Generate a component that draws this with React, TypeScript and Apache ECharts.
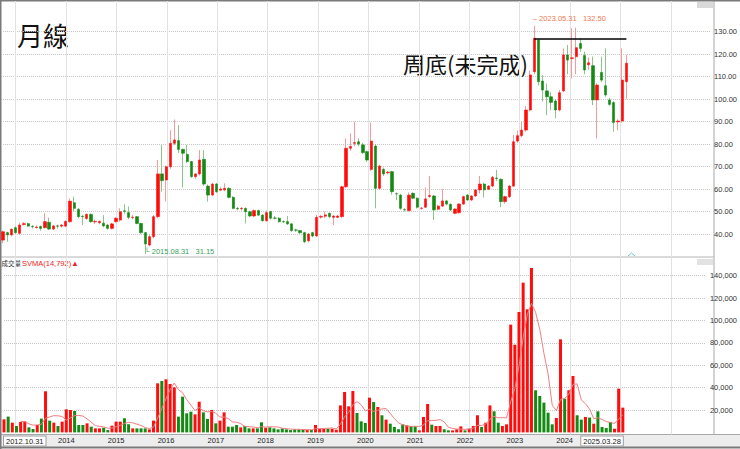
import React, { useEffect, useRef } from 'react';
import * as echarts from 'echarts';

// ---- labels ----
const START_YEAR = 2012;
const START_MONTH = 10;
const FIRST_DATE_LABEL = '2012.10.31';
const LAST_DATE_LABEL = '2025.03.28';
const HIGH_DATE_LABEL = '2023.05.31';
const LOW_DATE_LABEL = '2015.08.31';
const SVMA_LABEL = 'SVMA(14,792)▲';
const VOL_NAME = '成交量';
const TITLE = '月線';
const NOTE = '周底(未完成)';

// ---- monthly OHLC (2012.10 .. 2025.03) ----
const opens = [
  37.3, 40.6, 39.6, 42.8, 40.3, 44.2, 44.6, 43.3, 42.9, 43.3, 42.8, 45.2, 42.2, 43.6, 43.5, 43.5, 45.5, 53.9, 51.0, 47.9,
  46.9, 48.7, 45.4, 45.0, 44.8, 44.0, 42.5, 45.5, 46.2, 50.3, 49.5, 47.3, 47.7, 44.7, 40.6, 35.1, 38.8, 47.7, 66.7, 64.0,
  69.9, 80.3, 81.5, 77.6, 75.4, 72.2, 65.5, 66.7, 73.2, 61.3, 57.3, 62.2, 59.5, 59.6, 60.3, 56.3, 51.4, 51.2, 51.4, 49.9,
  48.0, 50.4, 48.4, 45.9, 49.9, 47.1, 47.0, 45.5, 45.5, 44.5, 41.8, 41.5, 40.6, 37.0, 40.6, 39.1, 47.5, 47.9, 49.2, 47.4,
  47.4, 47.7, 61.0, 78.1, 80.3, 81.0, 79.6, 76.6, 68.7, 79.1, 60.3, 68.7, 67.2, 67.7, 57.9, 57.3, 50.8, 50.4, 58.1, 55.9,
  51.4, 51.9, 56.7, 56.9, 51.0, 52.4, 54.7, 53.2, 49.2, 49.5, 53.3, 57.3, 55.1, 56.9, 59.6, 62.2, 59.9, 61.3, 64.9, 64.3,
  54.4, 56.6, 61.3, 81.3, 83.7, 86.2, 95.1, 112.1, 126.2, 108.0, 103.6, 101.0, 99.1, 95.1, 103.6, 119.6, 118.0, 118.8, 124.7, 119.3,
  115.2, 114.8, 99.6, 111.8, 105.9, 99.6, 98.4, 89.8, 90.2, 107.7,
];
const closes = [
  41.0, 39.6, 42.1, 40.6, 44.0, 44.6, 43.5, 43.2, 43.1, 42.5, 45.5, 42.2, 43.6, 43.5, 44.0, 45.6, 54.6, 51.4, 47.7, 47.7,
  48.7, 45.5, 45.6, 45.6, 43.6, 42.5, 44.5, 47.0, 49.9, 50.1, 47.4, 47.5, 44.7, 40.6, 35.6, 38.8, 47.7, 66.7, 63.7, 69.9,
  80.3, 81.8, 77.6, 75.9, 72.2, 65.5, 66.7, 72.9, 62.2, 57.3, 62.2, 58.8, 60.0, 60.3, 56.3, 51.4, 51.2, 51.4, 49.9, 48.0,
  50.4, 48.4, 45.9, 49.5, 47.0, 47.0, 45.5, 45.4, 44.5, 41.5, 41.7, 40.6, 36.6, 40.0, 39.1, 47.4, 47.8, 48.5, 47.7, 48.0,
  48.0, 61.0, 78.1, 78.9, 80.6, 80.0, 76.2, 72.9, 81.3, 60.3, 70.2, 66.7, 67.5, 58.8, 57.8, 51.4, 50.7, 57.3, 55.9, 51.9,
  51.5, 55.6, 57.1, 50.7, 52.4, 54.7, 53.3, 50.7, 51.1, 53.3, 56.6, 55.1, 56.9, 59.6, 62.2, 59.6, 61.3, 65.2, 64.7, 54.4,
  56.6, 61.3, 81.0, 83.7, 86.2, 95.1, 110.7, 127.0, 107.7, 104.0, 101.0, 98.5, 95.1, 102.8, 119.6, 117.3, 118.3, 122.8, 122.5, 112.9,
  116.1, 99.6, 106.2, 108.4, 101.8, 97.6, 89.6, 90.2, 108.4, 115.9,
];
const lows = [
  35.9, 36.6, 39.0, 40.0, 39.8, 43.8, 43.2, 42.5, 42.3, 41.5, 42.5, 41.8, 41.8, 42.4, 42.8, 43.0, 45.0, 50.0, 47.0, 44.0,
  46.2, 45.0, 44.5, 44.3, 43.0, 42.0, 42.0, 45.0, 45.5, 49.0, 46.5, 46.5, 44.3, 40.0, 31.15, 34.5, 38.0, 47.0, 58.8, 54.4,
  69.0, 79.5, 76.0, 60.7, 71.5, 65.0, 64.5, 66.0, 61.5, 54.4, 57.0, 58.3, 59.0, 59.0, 55.8, 51.0, 50.5, 50.5, 44.7, 47.5,
  47.5, 48.0, 45.5, 45.5, 46.5, 46.5, 45.0, 44.8, 44.0, 41.0, 41.0, 40.0, 35.9, 36.3, 38.5, 38.8, 46.8, 47.0, 47.0, 44.0,
  47.0, 47.2, 60.5, 77.0, 79.0, 79.0, 75.5, 72.0, 68.0, 51.4, 59.8, 65.8, 66.5, 57.5, 55.0, 50.8, 50.0, 50.0, 55.5, 51.3,
  50.8, 51.5, 56.0, 46.2, 50.5, 52.0, 52.8, 50.2, 48.8, 49.0, 53.0, 54.8, 54.6, 56.5, 58.0, 56.2, 59.5, 60.8, 63.5, 51.9,
  53.5, 56.0, 61.0, 80.5, 83.0, 85.5, 94.5, 111.0, 106.0, 98.8, 92.8, 95.0, 91.4, 94.5, 103.0, 111.0, 109.2, 111.0, 121.0, 111.0,
  113.0, 97.3, 82.5, 107.5, 101.0, 97.0, 85.5, 86.2, 89.5, 100.0,
];
const highs = [
  41.5, 41.0, 42.5, 43.5, 45.0, 45.3, 45.0, 44.0, 43.8, 43.8, 49.2, 47.3, 44.0, 44.2, 44.5, 46.0, 55.8, 56.6, 51.5, 48.5,
  49.2, 49.2, 46.5, 46.0, 48.4, 44.5, 45.0, 47.5, 51.4, 53.2, 52.2, 48.5, 48.0, 45.0, 41.0, 39.5, 48.5, 72.9, 79.6, 70.5,
  86.2, 90.9, 88.4, 78.0, 79.6, 72.5, 67.0, 77.3, 77.3, 62.0, 62.7, 62.7, 60.8, 62.5, 60.8, 56.8, 52.0, 52.0, 51.8, 50.3,
  51.0, 50.8, 48.8, 50.5, 50.3, 48.0, 47.5, 46.0, 48.0, 44.8, 42.3, 41.8, 41.0, 40.5, 41.0, 48.5, 48.5, 50.0, 49.6, 48.5,
  48.5, 61.5, 82.5, 84.7, 89.9, 82.5, 80.5, 77.0, 89.5, 80.0, 70.8, 69.5, 68.0, 68.0, 58.5, 57.8, 51.5, 58.5, 58.5, 56.3,
  52.0, 60.7, 65.8, 57.3, 53.0, 59.9, 55.2, 53.6, 51.5, 53.8, 57.0, 57.8, 57.3, 60.0, 65.8, 62.8, 61.8, 65.8, 68.5, 64.8,
  57.0, 61.8, 84.0, 86.0, 89.9, 97.0, 112.5, 132.5, 126.6, 110.6, 106.9, 103.0, 100.0, 104.0, 122.5, 124.0, 131.4, 131.7, 127.0, 121.0,
  118.5, 118.8, 107.0, 118.8, 122.5, 100.5, 99.0, 91.0, 122.5, 119.6,
];
// ---- monthly volume ----
const volumes = [
  11700, 14100, 8700, 5700, 9300, 9900, 4500, 3000, 6600, 12300, 36700, 10500, 8700, 5700, 9600, 20600, 20000, 19100, 6600, 6600,
  8100, 5100, 3600, 3600, 4200, 2100, 6000, 9600, 9600, 12600, 7200, 3600, 3600, 3600, 3600, 2700, 10500, 43800, 45900, 47400,
  43200, 40200, 14100, 31900, 17000, 18500, 16100, 27400, 17900, 12000, 20000, 8100, 10500, 17900, 5100, 5100, 6600, 4500, 5700, 3600,
  3600, 3600, 9000, 4200, 4500, 3600, 2700, 3600, 2700, 2100, 2700, 2700, 2700, 2100, 2100, 6600, 3300, 3300, 3300, 3300,
  2400, 24100, 36100, 23300, 37000, 17300, 9900, 8400, 31000, 27100, 22700, 15300, 11400, 7800, 4800, 2800, 7200, 6300, 5700, 5400,
  1800, 13800, 25400, 6900, 5700, 5700, 2800, 1800, 1800, 2800, 5400, 1800, 3300, 5700, 15300, 4800, 8700, 24100, 18800, 8700,
  5700, 7200, 96200, 78300, 107500, 133700, 109900, 146800, 37600, 32500, 26600, 17600, 7200, 12900, 83100, 30100, 37600, 50400, 15300, 11400,
  13800, 13200, 7800, 18800, 4800, 3900, 9300, 3300, 39100, 22100,
];
const SVMA_PERIOD = 5;

const PAD = 20; // empty months at the right edge

const UP = '#ff0d0d';
const DOWN = '#148a14';
const UP_WICK = '#f59a9a';
const DOWN_WICK = '#8cc58c';
const NUM_FONT = 'Liberation Sans, Arial, sans-serif';
const CJK_FONT = '"Noto Sans CJK TC", "Noto Sans CJK SC", sans-serif';

export default function App() {
  const ref = useRef<HTMLDivElement>(null);
  useEffect(() => {
    document.body.style.margin = '0';
    const N = opens.length;
    const categories: string[] = [];
    for (let k = 0; k < N + PAD; k++) {
      const m = START_MONTH - 1 + k;
      categories.push(`${START_YEAR + Math.floor(m / 12)}-${String((m % 12) + 1).padStart(2, '0')}`);
    }
    const last = N - 1;
    const isJan = (i: number) => categories[i] && categories[i].endsWith('-01');

    const xData = categories.map((c, i) => {
      if (i === 0)
        return {
          value: c,
          textStyle: { align: 'left', backgroundColor: '#fff', borderColor: '#a0a0a0', borderWidth: 1, padding: [1, 2, 0, 2] },
        };
      if (i === last)
        return {
          value: c,
          textStyle: { align: 'right', backgroundColor: '#fff', borderColor: '#a0a0a0', borderWidth: 1, padding: [1, 2, 0, 2] },
        };
      return c;
    });

    let maxIdx = 0;
    let minIdx = 0;
    highs.forEach((h, i) => {
      if (h > highs[maxIdx]) maxIdx = i;
    });
    lows.forEach((l, i) => {
      if (l < lows[minIdx]) minIdx = i;
    });

    const wickData = opens.map((o, i) => [o, closes[i], lows[i], highs[i]]);
    const bodyData = opens.map((o, i) => [o, closes[i], Math.min(o, closes[i]), Math.max(o, closes[i])]);
    const volData = volumes.map((v, i) => ({
      value: v,
      itemStyle: { color: closes[i] >= opens[i] ? UP : DOWN },
    }));
    const svma = volumes.map((_, i) => {
      if (i < SVMA_PERIOD - 1) return '-';
      let s = 0;
      for (let k = i - SVMA_PERIOD + 1; k <= i; k++) s += volumes[k];
      return s / SVMA_PERIOD;
    });

    const gridLeft = 3.1;
    const gridRight = 27.1;

    const chart = echarts.init(ref.current!, null, { renderer: 'svg' });
    chart.setOption({
      animation: false,
      backgroundColor: '#fff',
      grid: [
        { left: gridLeft, right: gridRight, top: 9, bottom: 192.5 },
        { left: gridLeft, right: gridRight, top: 253.2, bottom: 16.6 },
        { left: gridLeft, right: gridRight, top: 1, bottom: 14.5 },
      ],
      xAxis: [
        {
          gridIndex: 0, type: 'category', data: categories, boundaryGap: false,
          axisLine: { show: false }, axisTick: { show: false }, axisLabel: { show: false }, splitLine: { show: false },
        },
        {
          gridIndex: 1, type: 'category', data: xData, boundaryGap: false,
          axisLine: { show: false }, axisTick: { show: false }, splitLine: { show: false },
          axisLabel: {
            show: true, interval: 0, margin: 4, fontSize: 7.5, color: '#222', fontFamily: NUM_FONT,
            formatter: (v: string, i: number) => {
              if (i === 0) return FIRST_DATE_LABEL;
              if (i === last) return LAST_DATE_LABEL;
              if (i > last) return '';
              if (isJan(i) && i > 6 && i < last - 6) return v.slice(0, 4);
              return '';
            },
          },
        },
        {
          gridIndex: 2, type: 'category', data: categories, boundaryGap: false,
          axisLine: { show: false }, axisTick: { show: false }, axisLabel: { show: false },
          splitLine: { show: true, interval: (i: number) => !!isJan(i), lineStyle: { color: '#e2e2e2', width: 1 } },
        },
      ],
      yAxis: [
        {
          gridIndex: 0, type: 'value', position: 'right', min: 30, max: 140, interval: 10, scale: true,
          axisLine: { show: false }, axisTick: { show: false },
          axisLabel: {
            margin: 4, fontSize: 7.5, color: '#333', fontFamily: NUM_FONT, showMinLabel: false, showMaxLabel: false,
            formatter: (v: number) => v.toFixed(2),
          },
          splitLine: { show: true, showMinLine: false, showMaxLine: false, lineStyle: { color: '#c4c4c4', type: 'dotted', width: 1 } },
        },
        {
          gridIndex: 1, type: 'value', position: 'right', min: 0, max: 160000, interval: 20000,
          axisLine: { show: false }, axisTick: { show: false },
          axisLabel: {
            margin: 4, fontSize: 7.5, color: '#333', fontFamily: NUM_FONT, showMinLabel: false, showMaxLabel: false,
            formatter: (v: number) => v.toLocaleString('en-US'),
          },
          splitLine: { show: true, showMinLine: false, showMaxLine: false, lineStyle: { color: '#c4c4c4', type: 'dotted', width: 1 } },
        },
        { gridIndex: 2, type: 'value', min: 0, max: 1, show: false, splitLine: { show: false } },
      ],
      series: [
        {
          type: 'candlestick', xAxisIndex: 0, yAxisIndex: 0, data: wickData, barWidth: 1, clip: false, silent: true,
          itemStyle: { color: UP_WICK, color0: DOWN_WICK, borderColor: UP_WICK, borderColor0: DOWN_WICK, borderWidth: 1 },
          markPoint: {
            symbol: 'circle', symbolSize: 0, silent: true,
            label: { show: true, fontSize: 7.5, fontFamily: NUM_FONT, position: 'right' },
            data: [
              {
                coord: [categories[maxIdx], highs[maxIdx]],
                label: { formatter: `– ${HIGH_DATE_LABEL}   ${highs[maxIdx].toFixed(2)}`, color: '#f07850', offset: [-6.5, -7] },
              },
              {
                coord: [categories[minIdx], lows[minIdx]],
                label: { formatter: `└ ${LOW_DATE_LABEL}   ${lows[minIdx].toFixed(2)}`, color: '#3aa05a', offset: [-6, -2] },
              },
            ],
          },
        },
        {
          type: 'candlestick', xAxisIndex: 0, yAxisIndex: 0, data: bodyData, barWidth: 2.8, clip: false, silent: true,
          itemStyle: { color: UP, color0: DOWN, borderColor: UP, borderColor0: DOWN, borderWidth: 0.6 },
          markLine: {
            silent: true, symbol: ['none', 'none'], label: { show: false },
            lineStyle: { color: '#000', width: 1.5, type: 'solid' },
            data: [[{ coord: [categories[maxIdx], closes[maxIdx]] }, { coord: [categories[last], closes[maxIdx]] }]],
          },
        },
        {
          type: 'bar', xAxisIndex: 1, yAxisIndex: 1, data: volData, barWidth: 3, silent: true,
        },
        {
          type: 'line', xAxisIndex: 1, yAxisIndex: 1, data: svma, symbol: 'none', silent: true,
          lineStyle: { color: '#f08080', width: 1 },
        },
      ],
      graphic: [
        { type: 'rect', z: -10, shape: { x: 0, y: 435, width: 740, height: 12 }, style: { fill: '#ededed' } },
        { type: 'line', shape: { x1: 714, y1: 1, x2: 714, y2: 435 }, style: { stroke: '#a8a8a8', lineWidth: 1 } },
        { type: 'line', shape: { x1: 0, y1: 257, x2: 714, y2: 257 }, style: { stroke: '#b4b4b4', lineWidth: 1 } },
        { type: 'line', shape: { x1: 0, y1: 434.5, x2: 740, y2: 434.5 }, style: { stroke: '#a8a8a8', lineWidth: 1 } },
        { type: 'line', shape: { x1: 0, y1: 0.75, x2: 740, y2: 0.75 }, style: { stroke: '#7a7a7a', lineWidth: 1.5 } },
        { type: 'line', shape: { x1: 0.75, y1: 0, x2: 0.75, y2: 449 }, style: { stroke: '#7a7a7a', lineWidth: 1.5 } },
        { type: 'line', shape: { x1: 0, y1: 447.5, x2: 740, y2: 447.5 }, style: { stroke: '#7a7a7a', lineWidth: 2 } },
        { type: 'rect', shape: { x: 697, y: 2, width: 16, height: 6 }, style: { fill: '#d9d9d9' } },
        { type: 'rect', shape: { x: 697, y: 259, width: 16, height: 6 }, style: { fill: '#e2e2e2' } },
        { type: 'polyline', shape: { points: [[628, 256], [631.5, 253], [635, 256]] }, style: { stroke: '#6cc8c8', lineWidth: 1, fill: 'none' } },
        {
          type: 'text', x: 17, y: 21,
          style: { text: TITLE, fontSize: 26, fontFamily: CJK_FONT, fill: '#111', textAlign: 'left', textVerticalAlign: 'top' },
        },
        {
          type: 'text', x: 403, y: 52,
          style: { text: NOTE, fontSize: 22, fontFamily: CJK_FONT, fill: '#111', textAlign: 'left', textVerticalAlign: 'top' },
        },
        {
          type: 'text', x: 1.5, y: 263,
          style: { text: VOL_NAME, fontSize: 6.5, fontFamily: CJK_FONT, fill: '#333', textAlign: 'left', textVerticalAlign: 'middle' },
        },
        {
          type: 'text', x: 22, y: 263,
          style: { text: SVMA_LABEL, fontSize: 7.5, fontFamily: NUM_FONT, fill: '#ee2222', textAlign: 'left', textVerticalAlign: 'middle' },
        },
      ],
    });
    return () => chart.dispose();
  }, []);
  return <div ref={ref} style={{ width: 740, height: 449 }} />;
}
